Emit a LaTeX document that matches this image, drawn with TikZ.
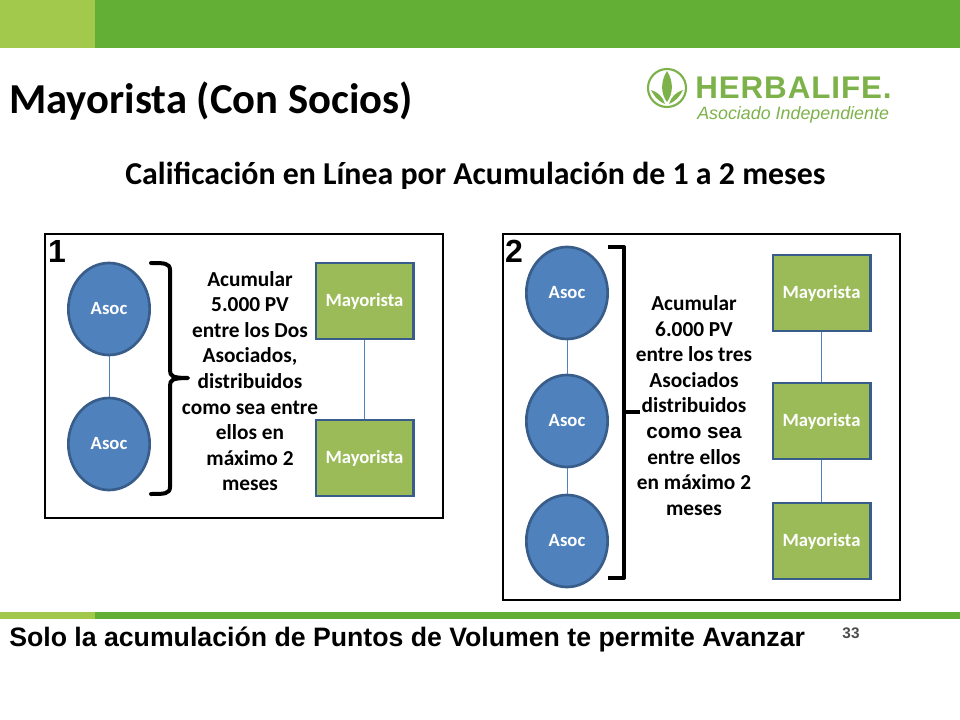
\documentclass[tikz,border=0pt]{standalone}
\usepackage{fontspec}
\setmainfont{Carlito}
\newfontfamily\arialfont{Liberation Sans}
\definecolor{barlight}{HTML}{A2C94C}
\definecolor{bardark}{HTML}{63AE35}
\definecolor{asocfill}{HTML}{4F81BD}
\definecolor{asocedge}{HTML}{385D8A}
\definecolor{mayfill}{HTML}{9BBB59}
\definecolor{logogreen}{HTML}{7DB24A}
\tikzset{
	asoc/.style={draw=asocedge, line width=2pt, fill=asocfill, ellipse, minimum width=61pt, minimum height=69pt,
		inner sep=0pt, text=white, font=\fontsize{14}{16}\selectfont\bfseries},
	mayorista/.style={draw=asocedge, line width=2pt, fill=mayfill, minimum width=73pt, minimum height=57pt,
		inner sep=0pt, text=white, font=\fontsize{14}{16}\selectfont\bfseries},
	link/.style={draw=asocfill, line width=0.6pt},
	frame/.style={draw=black, line width=2.2pt},
	brace/.style={draw=black, line width=3pt, line cap=round, line join=round},
	note/.style={align=center, inner sep=0pt, font=\fontsize{16}{19.2}\selectfont\bfseries},
	num/.style={inner sep=0pt, font=\arialfont\fontsize{24}{28}\selectfont\bfseries}
}
\usetikzlibrary{shapes.geometric}
\begin{document}
\begin{tikzpicture}[x=0.75pt, y=-0.75pt]
	\useasboundingbox (0,0) rectangle (960,720);
	% bars
	\fill[bardark] (0,0) rectangle (960,48);
	\fill[barlight] (0,0) rectangle (95,48);
	\fill[bardark] (0,612) rectangle (960,619);
	\fill[barlight] (0,612) rectangle (95,619);

	\node[anchor=west, inner sep=0pt, font=\fontsize{32}{36}\selectfont\bfseries] (title) at (9,101) {Mayorista (Con Socios)};
	\node[inner sep=0pt, font=\fontsize{23.9}{28}\selectfont\bfseries] (subtitle) at (475.5,176) {Calificación en Línea por Acumulación de 1 a 2 meses};

	% logo
	\draw[logogreen, line width=1.6pt] (667,88) circle (19);
	\fill[logogreen] (667,71) .. controls (660,82) and (661,94) .. (667,102) .. controls (673,94) and (674,82) .. (667,71);
	\fill[logogreen] (651,90) .. controls (655,98) and (660,102) .. (665,104) .. controls (663,97) and (658,92) .. (651,90);
	\fill[logogreen] (683,90) .. controls (679,98) and (674,102) .. (669,104) .. controls (671,97) and (676,92) .. (683,90);
	\node[anchor=west, inner sep=0pt, text=logogreen, font=\arialfont\addfontfeature{LetterSpace=3}\fontsize{23.5}{27}\selectfont\bfseries] (logotext) at (695,88) {HERBALIFE.};
	\node[anchor=west, inner sep=0pt, text=logogreen, font=\arialfont\fontsize{13.4}{16}\selectfont\itshape] (logosub) at (697,114.5) {Asociado Independiente};

	% box 1
	\draw[frame] (45,234) rectangle (443,518);
	\node[num] (n1) at (57,251) {1};
	\node[asoc] (a1) at (109,309) {Asoc};
	\node[asoc] (a2) at (109,444) {Asoc};
	\node[mayorista] (m1) at (364.5,301) {Mayorista};
	\node[mayorista] (m2) at (364.5,458) {Mayorista};
	\draw[link] (a1) -- (a2);
	\draw[link] (m1) -- (m2);
	\draw[brace] (151,263) .. controls (164,263) and (170,263) .. (170,270) -- (170,370)
		.. controls (170,376) and (172,378) .. (188,378) .. controls (172,378) and (170,380) .. (170,386)
		-- (170,487) .. controls (170,494) and (164,494) .. (151,494);
	\node[note] (t1) at (250,381) {Acumular\\5.000 PV\\entre los Dos\\Asociados,\\distribuidos\\como sea entre\\ellos en\\máximo 2\\meses};

	% box 2
	\draw[frame] (503,234) rectangle (900,600);
	\node[num] (n2) at (514,251) {2};
	\node[asoc] (a3) at (567,293) {Asoc};
	\node[asoc] (a4) at (567,421) {Asoc};
	\node[asoc] (a5) at (567,541) {Asoc};
	\node[mayorista] (m3) at (821.5,293) {Mayorista};
	\node[mayorista] (m4) at (821.5,421) {Mayorista};
	\node[mayorista] (m5) at (821.5,541) {Mayorista};
	\draw[link] (a3) -- (a4);
	\draw[link] (a4) -- (a5);
	\draw[link] (m3) -- (m4);
	\draw[link] (m4) -- (m5);
	\draw[brace, line cap=butt, miter limit=10] (608,247) -- (624,247) -- (624,578) -- (608,578);
	\draw[brace, line cap=butt] (624,412) -- (640,412);
	\node[note] (t2) at (694,405.5) {Acumular\\6.000 PV\\entre los tres\\Asociados\\distribuidos\\{\arialfont\fontsize{15.5}{19.2}\selectfont como sea}\\entre ellos\\en máximo 2\\meses};

	\node[anchor=west, inner sep=0pt, font=\arialfont\fontsize{20}{24}\selectfont\bfseries] (foot) at (9,639.5) {Solo la acumulación de Puntos de Volumen te permite Avanzar};
	\node[inner sep=0pt, text=black!70, font=\arialfont\fontsize{11.5}{13}\selectfont\bfseries] (page) at (851,633) {33};
\end{tikzpicture}
\end{document}
